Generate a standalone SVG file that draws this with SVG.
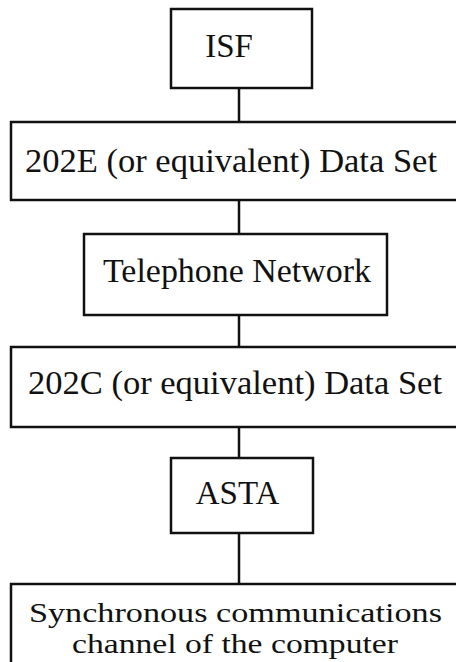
<svg xmlns="http://www.w3.org/2000/svg" width="456" height="662" viewBox="0 0 456 662">
<style>
.box{fill:#fff;stroke:#111;stroke-width:2.5}
.lbl{font-family:"Liberation Serif","DejaVu Serif",serif;font-size:33px;fill:#111}
.sm{font-size:28px}
.conn{stroke:#111;stroke-width:2.5;fill:none}
</style>
<rect width="456" height="662" fill="#fff"/>
<g id="connectors">
<line class="conn" x1="239" y1="88" x2="239" y2="122"/>
<line class="conn" x1="239" y1="200" x2="239" y2="234"/>
<line class="conn" x1="239" y1="315" x2="239" y2="347"/>
<line class="conn" x1="239" y1="427" x2="239" y2="458"/>
<line class="conn" x1="239" y1="533" x2="239" y2="584"/>
</g>
<g id="isf">
<rect class="box" x="171" y="9" width="141" height="79"/>
<text class="lbl" x="229" y="57" text-anchor="middle">ISF</text>
</g>
<g id="ds202e">
<rect class="box" x="11" y="122" width="450" height="78"/>
<text class="lbl" x="25" y="172" textLength="412" lengthAdjust="spacingAndGlyphs">202E (or equivalent) Data Set</text>
</g>
<g id="telnet">
<rect class="box" x="84" y="234" width="303" height="81"/>
<text class="lbl" x="103" y="282" textLength="268" lengthAdjust="spacingAndGlyphs">Telephone Network</text>
</g>
<g id="ds202c">
<rect class="box" x="11" y="347" width="450" height="80"/>
<text class="lbl" x="28" y="394" textLength="414" lengthAdjust="spacingAndGlyphs">202C (or equivalent) Data Set</text>
</g>
<g id="asta">
<rect class="box" x="171" y="458" width="142" height="75"/>
<text class="lbl" x="237.5" y="504" text-anchor="middle">ASTA</text>
</g>
<g id="sync">
<rect class="box" x="11" y="584" width="450" height="90"/>
<text class="lbl sm" x="29" y="622" textLength="413" lengthAdjust="spacingAndGlyphs">Synchronous communications</text>
<text class="lbl sm" x="72" y="653" textLength="326" lengthAdjust="spacingAndGlyphs">channel of the computer</text>
</g>
</svg>
